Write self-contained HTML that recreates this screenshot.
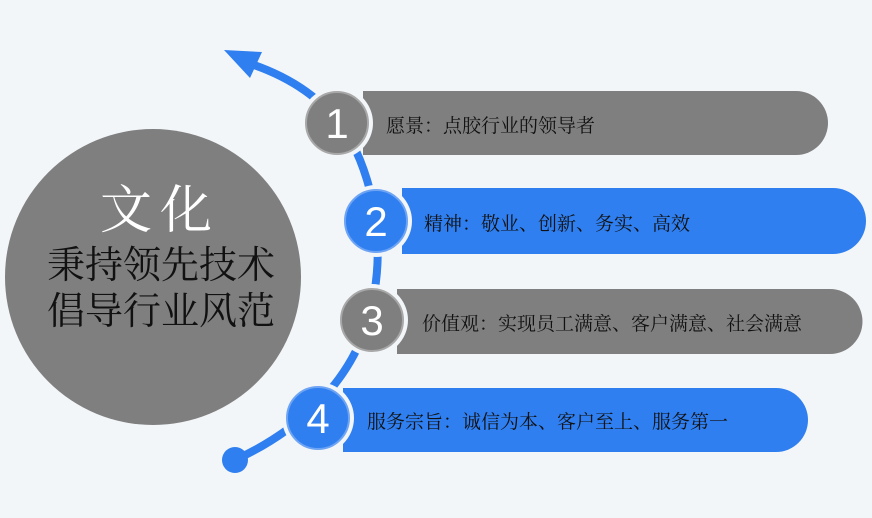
<!DOCTYPE html>
<html><head><meta charset="utf-8"><style>
body{margin:0;width:872px;height:518px;background:#f3f6f9;overflow:hidden;font-family:"Liberation Serif","Noto Serif CJK SC",serif;}
.t{position:absolute;font-size:19px;color:#111;white-space:nowrap;}
</style></head><body>
<svg width="872" height="518" style="position:absolute;left:0;top:0">
<circle cx="153" cy="277" r="148" fill="#7f7f7f"/>
<path d="M248,63 C300,80 340,110 360,160 C380,210 385,270 365,330 C345,385 300,430 235,460" fill="none" stroke="#2f7ff0" stroke-width="8"/>
<polygon points="224,50 262,52 250,78" fill="#2f7ff0"/>
<circle cx="235" cy="460" r="13" fill="#2f7ff0"/>
<path d="M363,91 H796 A32,32 0 0 1 796,155 H363 Z" fill="#7f7f7f"/>
<path d="M402,188 H833 A33,33 0 0 1 833,254 H402 Z" fill="#2f7ff0"/>
<path d="M397,289 H830 A32.5,32.5 0 0 1 830,354 H397 Z" fill="#7f7f7f"/>
<path d="M343,388 H776 A32,32 0 0 1 776,452 H343 Z" fill="#2f7ff0"/>
<circle cx="337" cy="123" r="36" fill="#f3f6f9"/>
<circle cx="337" cy="123" r="31" fill="#7f7f7f" stroke="#a8a8a8" stroke-width="2"/>
<circle cx="376" cy="221" r="36" fill="#f3f6f9"/>
<circle cx="376" cy="221" r="31" fill="#2f7ff0" stroke="#6ea4f4" stroke-width="2"/>
<circle cx="372" cy="320" r="36" fill="#f3f6f9"/>
<circle cx="372" cy="320" r="31" fill="#7f7f7f" stroke="#a8a8a8" stroke-width="2"/>
<circle cx="318" cy="418" r="36" fill="#f3f6f9"/>
<circle cx="318" cy="418" r="31" fill="#2f7ff0" stroke="#6ea4f4" stroke-width="2"/>
<g fill="#fff" font-family="Liberation Sans, sans-serif" font-size="42" text-anchor="middle">
<text x="337" y="138">1</text><text x="376" y="236">2</text><text x="372" y="335">3</text><text x="318" y="433">4</text>
</g>
<g fill="#111" text-anchor="middle" font-family="Liberation Serif, Noto Serif CJK SC, serif">
<text x="160" y="228" font-size="52" fill="#fff" letter-spacing="8">文化</text>
<text x="161" y="278" font-size="38">秉持领先技术</text>
<text x="161" y="324" font-size="38">倡导行业风范</text>
</g>
</svg>
<div class="t" style="left:386px;top:111px">愿景：点胶行业的领导者</div>
<div class="t" style="left:424px;top:209px">精神：敬业、创新、务实、高效</div>
<div class="t" style="left:422px;top:309px">价值观：实现员工满意、客户满意、社会满意</div>
<div class="t" style="left:367px;top:407px">服务宗旨：诚信为本、客户至上、服务第一</div>
</body></html>
